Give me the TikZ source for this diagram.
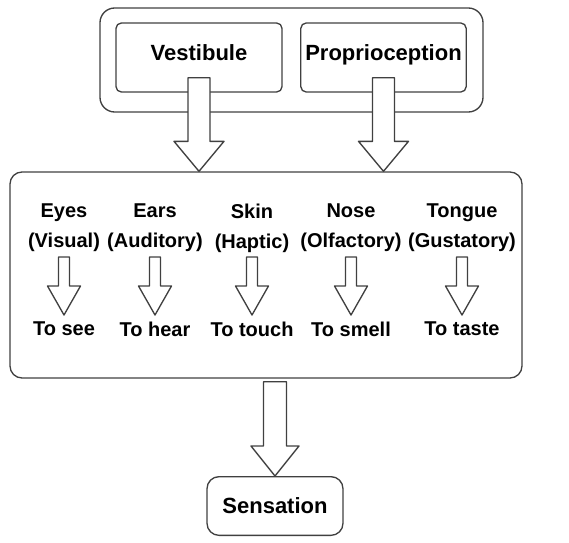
\documentclass[tikz,border=0pt]{standalone}
\usepackage{fontspec}
\setmainfont{Liberation Sans}
\usepackage{xcolor}
\definecolor{edgegray}{HTML}{404040}
\usetikzlibrary{calc}
% hollow block arrow: start, tip, half shaft, half head, head length
\newcommand\fatarrow[5]{%
  \draw[blockarrow] ($(#1)+(-#3,0)$) -- ($(#2)+(-#3,-#5)$) -- ($(#2)+(-#4,-#5)$)
    -- (#2) -- ($(#2)+(#4,-#5)$) -- ($(#2)+(#3,-#5)$) -- ($(#1)+(#3,0)$) -- cycle;}

\begin{document}
\begin{tikzpicture}[x=0.75pt,y=-0.75pt,line join=round,
    box/.style={draw=edgegray,line width=1pt,rounded corners=#1},
    box/.default=6pt,
    blockarrow/.style={draw=edgegray,fill=white,line width=1pt},
    bigtext/.style={font=\fontsize{16.5}{20}\selectfont\bfseries},
    organ/.style={font=\fontsize{15}{22.5}\selectfont\bfseries,align=center,inner sep=0pt}]
  \useasboundingbox (0,0) rectangle (569,543);
  % top group
  \draw[box=11pt] (100,8) rectangle (483,112);
  \node[box=4pt,bigtext,text height=12pt,text depth=8pt,minimum width=124.5pt,minimum height=51.75pt] (vest) at (199,57.5) {Vestibule};
  \node[box=4pt,bigtext,text height=12pt,text depth=8pt,minimum width=123.75pt,minimum height=51.75pt] (prop) at (383.5,57.5) {Proprioception};
  % sense organs
  \node[box=9pt,minimum width=384pt,minimum height=154.5pt] (organs) at (266,275) {};
  \foreach \x/\org/\verb [count=\i] in {64/Eyes\\(Visual)/To see,
      155/Ears\\(Auditory)/To hear,
      252/Skin\\(Haptic)/To touch,
      351/Nose\\(Olfactory)/To smell,
      462/Tongue\\(Gustatory)/To taste}{
    \node[organ] (org\i) at (\x,228) {\org};
    \node[organ] (act\i) at (\x,329) {\verb};
    \coordinate (top\i) at (\x,257);
    \coordinate (tip\i) at (\x,315);
    \fatarrow{top\i}{tip\i}{5.5}{16.5}{29}
  }
  % sensation
  \node[box=9pt,bigtext,minimum width=102pt,minimum height=44pt] (sens) at (275,506) {Sensation};
  % connectors
  \fatarrow{$(vest.south)+(0,-15)$}{organs.north -| vest}{11}{25}{30}
  \fatarrow{$(prop.south)+(0,-15)$}{organs.north -| prop}{11}{25}{30}
  \fatarrow{$(organs.south -| sens)+(0,3)$}{sens.north}{11.5}{24}{30}
\end{tikzpicture}
\end{document}
